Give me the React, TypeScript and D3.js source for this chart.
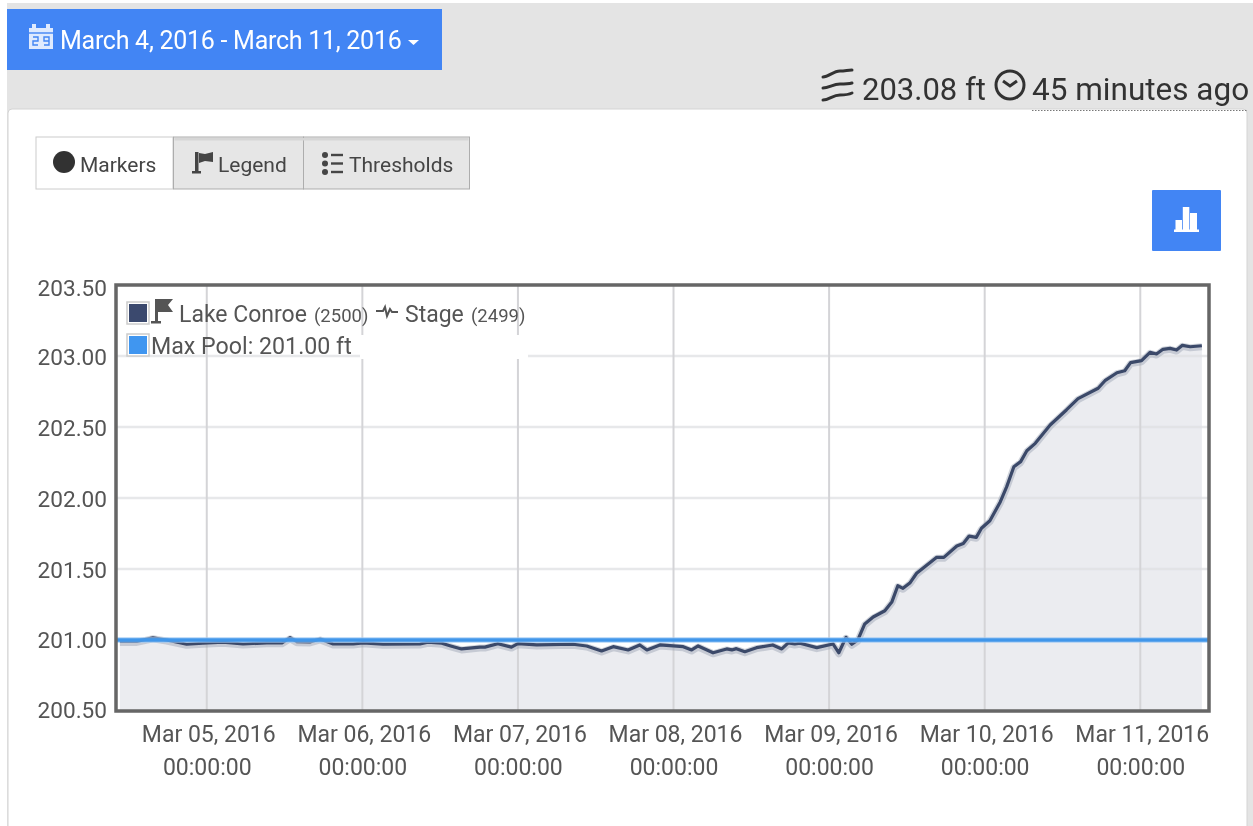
import * as d3 from "d3";
import React, { useEffect, useRef } from "react";

// hours since Mar 4 2016 00:00
const stageHours = [
  10.6, 13.2, 15.7, 17.8, 20.9, 23.4, 26.5, 29.6, 33.25, 35.6, 36.85, 37.9, 39.9, 41.5, 43.5, 46.6,
  48.1, 51.2, 56.9, 58.1, 60.25, 61.5, 63.3, 66.15, 66.9, 68.9, 71.0, 72.0, 74.9, 80.5, 82.6, 84.9,
  86.7, 89.0, 90.8, 91.9, 93.9, 97.5, 98.8, 99.8, 102.1, 104.2, 105.0, 105.7, 107.0, 108.8, 111.3,
  112.7, 113.7, 114.7, 115.5, 118.1, 120.6, 121.5, 122.6, 123.5, 124.4, 125.5, 126.8, 128.6, 129.7,
  130.6, 131.4, 132.5, 133.5, 135.1, 136.6, 137.7, 139.7, 140.7, 141.6, 142.7, 143.5, 144.8, 146.4,
  147.4, 148.5, 149.55, 150.5, 151.8, 154.1, 156.6, 158.4, 161.5, 162.55, 164.4, 165.6, 166.5, 168.2,
  169.5, 170.5, 171.5, 172.6, 173.6, 174.5, 175.7, 177.5,
];
const stageValues = [
  200.99, 200.99, 201.016, 201.0, 200.97, 200.977, 200.984, 200.972, 200.98, 200.98, 201.016, 200.988,
  200.986, 201.007, 200.972, 200.972, 200.98, 200.97, 200.972, 200.984, 200.977, 200.96, 200.937,
  200.95, 200.95, 200.974, 200.95, 200.974, 200.965, 200.97, 200.958, 200.923, 200.953, 200.93,
  200.965, 200.93, 200.965, 200.953, 200.93, 200.958, 200.91, 200.937, 200.93, 200.939, 200.918,
  200.946, 200.965, 200.937, 200.98, 200.972, 200.977, 200.946, 200.972, 200.91, 201.019, 200.97,
  200.998, 201.113, 201.162, 201.206, 201.27, 201.382, 201.364, 201.404, 201.47, 201.528, 201.582,
  201.582, 201.662, 201.68, 201.732, 201.723, 201.787, 201.84, 201.972, 202.08, 202.22, 202.256,
  202.333, 202.385, 202.514, 202.62, 202.7, 202.773, 202.826, 202.882, 202.896, 202.953, 202.967,
  203.026, 203.014, 203.047, 203.054, 203.042, 203.075, 203.065, 203.072,
];
const yTicks = [200.5, 201, 201.5, 202, 202.5, 203, 203.5];
const dayTicks = [5, 6, 7, 8, 9, 10, 11];
const maxPool = 201;

const t = (h: number) => new Date(Date.UTC(2016, 2, 4, 0, 0, 0) + h * 3600000);
const FONT = "Roboto, sans-serif";
const BLUE = "#4285f4";

function Chart() {
  const ref = useRef<SVGGElement>(null);

  useEffect(() => {
    const g = d3.select(ref.current);
    const x = d3.scaleUtc().domain([t(10), t(178.6)]).range([116, 1209]);
    const y = d3.scaleLinear().domain([200.5, 203.5]).range([711, 285]);
    const points = stageHours.map((h, i) => [h, stageValues[i]]);

    const area = d3.area<number[]>().x((d) => x(t(d[0]))).y0(y(200.5)).y1((d) => y(d[1]));
    const line = d3.line<number[]>().x((d) => x(t(d[0]))).y((d) => y(d[1]));

    g.selectAll("*").remove();
    g.append("path").attr("d", area(points)).attr("fill", "#ebecf0");

    // grid
    g.append("g")
      .selectAll("line")
      .data(yTicks.slice(1, -1))
      .join("line")
      .attr("x1", 116)
      .attr("x2", 1209)
      .attr("y1", (d) => y(d))
      .attr("y2", (d) => y(d))
      .attr("stroke", "#dfe0e3")
      .attr("stroke-opacity", 0.75)
      .attr("stroke-width", 2.5);
    g.append("g")
      .selectAll("line")
      .data(dayTicks)
      .join("line")
      .attr("x1", (d) => x(t(d * 24 - 96)))
      .attr("x2", (d) => x(t(d * 24 - 96)))
      .attr("y1", 285)
      .attr("y2", 711)
      .attr("stroke", "#d4d4d7")
      .attr("stroke-width", 2);

    g.append("path")
      .attr("d", line(points))
      .attr("fill", "none")
      .attr("stroke", "#9aa1b2")
      .attr("stroke-opacity", 0.45)
      .attr("stroke-linejoin", "round")
      .attr("stroke-width", 7)
      .attr("transform", "translate(0,1)");
    g.append("path")
      .attr("d", line(points))
      .attr("fill", "none")
      .attr("stroke", "#3a4869")
      .attr("stroke-linejoin", "round")
      .attr("stroke-width", 3.2);

    g.append("line")
      .attr("x1", 116)
      .attr("x2", 1209)
      .attr("y1", y(maxPool))
      .attr("y2", y(maxPool))
      .attr("stroke", "#9cc8f4")
      .attr("stroke-opacity", 0.6)
      .attr("stroke-width", 6);
    g.append("line")
      .attr("x1", 116)
      .attr("x2", 1209)
      .attr("y1", y(maxPool))
      .attr("y2", y(maxPool))
      .attr("stroke", "#3f96ea")
      .attr("stroke-width", 3.5);

    // plot frame
    g.append("rect")
      .attr("x", 116)
      .attr("y", 285)
      .attr("width", 1093)
      .attr("height", 426)
      .attr("fill", "none")
      .attr("stroke", "#666")
      .attr("stroke-width", 3.5);

    const yAxis = d3.axisLeft(y).tickValues(yTicks).tickSize(0).tickPadding(9).tickFormat((d) => (d as number).toFixed(2));
    const yG = g.append("g").attr("transform", "translate(116,0)").call(yAxis);
    yG.select(".domain").remove();
    yG.selectAll("text")
      .attr("font-family", FONT)
      .attr("font-size", 22.6)
      .attr("fill", "#555")
      // labels sit a little off the gridlines in the original
      .attr("transform", (d) => `translate(0,${d === 203.5 ? 3 : d === 200.5 ? -1 : d === 201 ? 0 : 1})`);

    const xAxis = d3
      .axisBottom(x)
      .tickValues(dayTicks.map((d) => t(d * 24 - 96)))
      .tickSize(0)
      .tickFormat(() => "");
    const xG = g.append("g").attr("transform", "translate(0,711)").call(xAxis);
    xG.select(".domain").remove();
    xG.selectAll(".tick text").remove();
    const labels = xG.selectAll(".tick").append("text").attr("text-anchor", "middle").attr("font-family", FONT).attr("font-size", 23).attr("fill", "#555");
    labels.append("tspan").attr("x", 1.5).attr("y", 31).text((d: any) => `Mar ${d3.utcFormat("%d")(d)}, 2016`);
    labels.append("tspan").attr("x", 0).attr("y", 64).text("00:00:00");
  }, []);

  return <g ref={ref} />;
}

function Icons() {
  return (
    <>
      {/* calendar */}
      <path d="M29 28h3v-4h4v4h10v-4h4v4h3v21H29z" fill="#dfeafe" />
      <g fill="none" stroke={BLUE} strokeWidth="1.4">
        <path d="M29 33h24" />
        <path d="M33 37h5v4h-5v4h5" />
        <path d="M49 41h-5v-4h5v8h-5" />
      </g>
      <path d="M408 40h11l-5.5 5z" fill="#fff" />
      {/* waves */}
      <g fill="none" stroke="#333" strokeWidth="3" strokeLinecap="round">
        <path d="M823 77c6 0 10-6 17-6 5 0 8-1 12-1" />
        <path d="M823 88c6 0 10-4 17-4 5 0 8 0 12-1" />
        <path d="M823 100c6 0 10-5 17-5 5 0 8 0 12-2" />
      </g>
      {/* clock */}
      <g fill="none" stroke="#333" strokeWidth="3">
        <circle cx="1010" cy="85" r="14" />
        <path d="M1003 81l7 5 7-5" />
      </g>
      {/* markers dot */}
      <circle cx="64" cy="162" r="11" fill="#333" />
      {/* legend flag */}
      <g fill="#444">
        <rect x="195" y="152" width="3.5" height="20" />
        <rect x="192" y="171" width="9" height="2.5" />
        <path d="M199 153l6 1 8-2v10l-8-1-6 2z" />
      </g>
      {/* thresholds list */}
      <g fill="#444">
        {[0, 1, 2].map((i) => (
          <g key={i}>
            <circle cx="325" cy={155 + i * 8.5} r="3" />
            <rect x="331" y={153.8 + i * 8.5} width="12" height="2.4" />
          </g>
        ))}
      </g>
      {/* bar chart button */}
      <rect x="1152" y="190" width="69" height="61" rx="1" fill={BLUE} />
      <g fill="#fff">
        <rect x="1175.5" y="220" width="6.5" height="11" />
        <rect x="1182.8" y="207" width="6.5" height="24" />
        <rect x="1190" y="213" width="7" height="18" />
        <rect x="1174" y="229.5" width="25" height="2.5" />
      </g>
    </>
  );
}

function Legend() {
  return (
    <g fontFamily={FONT} fill="#555">
      <rect x="360" y="335" width="168" height="24" fill="#fff" />
      <rect x="127" y="302" width="22" height="22" fill="#fff" stroke="#ccc" strokeWidth="1.5" />
      <rect x="129" y="304" width="18" height="18" fill="#3b4a6e" />
      <g fill="#555">
        <rect x="155" y="299" width="3" height="23" />
        <rect x="151" y="321" width="10" height="2.5" />
        <path d="M158 299h15l-5 6 5 7h-15z" />
      </g>
      <text x="179" y="322" fontSize="23">Lake Conroe</text>
      <text x="314" y="322" fontSize="18.5">(2500)</text>
      <path d="M376 311h7l2-4 2 9 3-7 2 3h6" fill="none" stroke="#555" strokeWidth="2" />
      <text x="405" y="322" fontSize="23">Stage</text>
      <text x="471" y="322" fontSize="18.5">(2499)</text>
      <rect x="127" y="334" width="22" height="22" fill="#fff" stroke="#ccc" strokeWidth="1.5" />
      <rect x="129" y="336" width="18" height="18" fill="#3f96f0" />
      <text x="151" y="354" fontSize="23.2">Max Pool: 201.00 ft</text>
    </g>
  );
}

export default function App() {
  return (
    <svg width={1253} height={826} style={{ position: "absolute", left: 0, top: 0, display: "block" }}>
      <defs>
        <filter id="soft" x="0" y="0" width="100%" height="100%">
          <feGaussianBlur stdDeviation="0.55" />
        </filter>
      </defs>
      <g filter="url(#soft)">
        <rect width={1253} height={826} fill="#fff" />
        <rect x="7" y="3" width="1246" height="823" fill="#e4e4e4" />
        {/* panel */}
        <rect x="8" y="109" width="1239" height="730" rx="4" fill="#fff" stroke="#d4d4d4" />
        {/* date button */}
        <rect x="7" y="9" width="435" height="61" fill={BLUE} />
        <text x="60" y="49" fontFamily={FONT} fontSize="25" letterSpacing="-0.27" fill="#fff">March 4, 2016 - March 11, 2016</text>
        {/* current reading */}
        <text x="862" y="100" fontFamily={FONT} fontSize="31" fill="#333">203.08 ft</text>
        <text x="1032" y="100" fontFamily={FONT} fontSize="31.5" fill="#333">45 minutes ago</text>
        <line x1="1032" x2="1248" y1="110.5" y2="110.5" stroke="#777" strokeDasharray="1.5 1.5" />
        {/* toggle buttons */}
        <rect x="36" y="137" width="137" height="52" fill="#fff" stroke="#ccc" />
        <rect x="173.5" y="137" width="130" height="52" fill="#e6e6e6" stroke="#adadad" />
        <rect x="303.5" y="137" width="166" height="52" fill="#e6e6e6" stroke="#adadad" />
        <rect x="174.5" y="138" width="294" height="2.5" fill="#d6d6d6" />
        <text x="80" y="172" fontFamily={FONT} fontSize="21" fill="#444">Markers</text>
        <text x="218" y="172" fontFamily={FONT} fontSize="21" fill="#444">Legend</text>
        <text x="349" y="172" fontFamily={FONT} fontSize="21" fill="#444">Thresholds</text>
        <Icons />
        <Chart />
        <Legend />
      </g>
    </svg>
  );
}
